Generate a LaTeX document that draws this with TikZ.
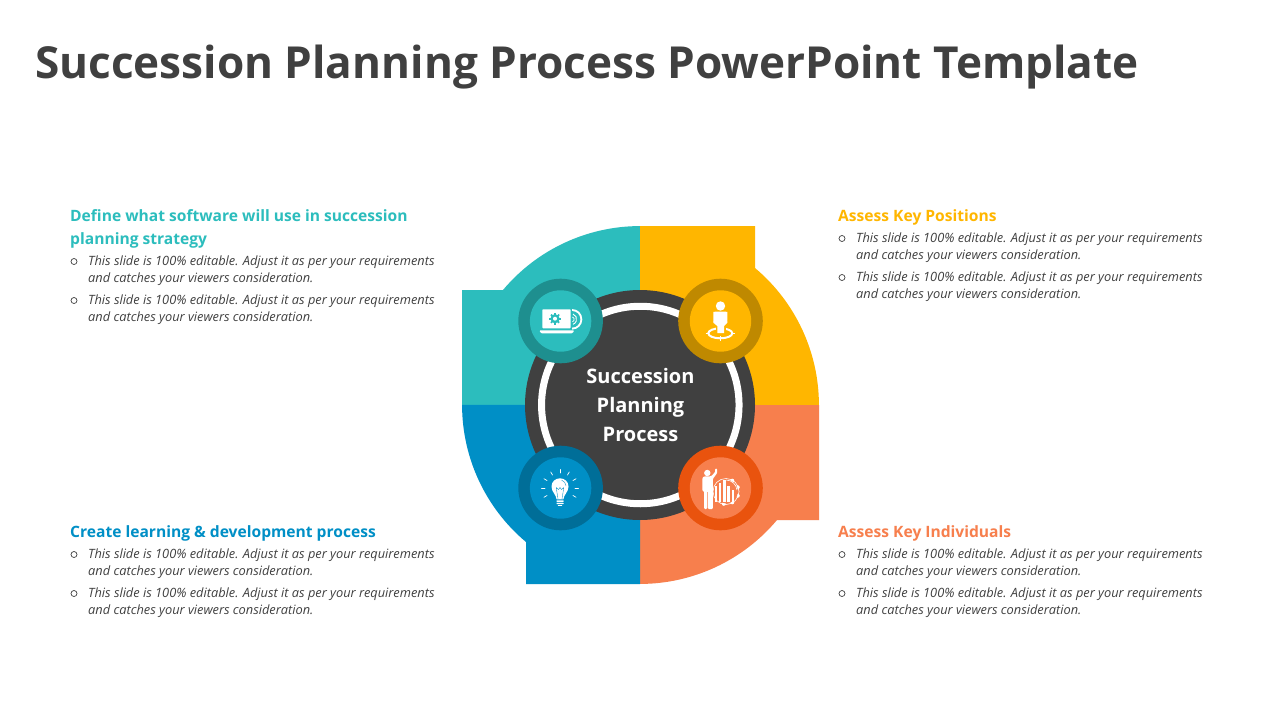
\documentclass[tikz,border=0pt]{standalone}
\usepackage{fontspec}
\setmainfont{Open Sans}
\definecolor{teal1}{HTML}{2CBDBD}\definecolor{teal2}{HTML}{1E8F8F}
\definecolor{yel1}{HTML}{FFB600}\definecolor{yel2}{HTML}{BF8900}
\definecolor{blu1}{HTML}{008FC6}\definecolor{blu2}{HTML}{006E98}
\definecolor{org1}{HTML}{F77F4D}\definecolor{org2}{HTML}{E9530E}
\definecolor{ink}{HTML}{404040}
\tikzset{
 x=1pt,y=-1pt,
 head/.style={anchor=north west,inner sep=0pt,align=left,font=\fontsize{15.6}{23}\selectfont\bfseries},
 bodytxt/.style={anchor=north west,inner sep=0pt,align=left,text=ink,font=\fontsize{12.8}{17}\selectfont\itshape},
 bull/.style={circle,draw=ink,line width=.7pt,minimum size=6pt,inner sep=0pt},
 ring/.style={circle,inner sep=0pt,minimum size=84.6pt},
 core/.style={circle,inner sep=0pt,minimum size=61.4pt},
}
\newcommand{\bodyblock}[3]{%
 \node[bull] (#3a) at (#1+4,#2+7.5) {};
 \node[bodytxt] (#3b) at (#1+18,#2+2) {This slide is 100\% editable. Adjust it as per your requirements\\and catches your viewers consideration.};
 \node[bull] (#3c) at (#1+4,#2+46.5) {};
 \node[bodytxt] (#3d) at (#1+18,#2+41) {This slide is 100\% editable. Adjust it as per your requirements\\and catches your viewers consideration.};
}
\begin{document}
\begin{tikzpicture}
\useasboundingbox (0,0) rectangle (1280,720);
\fill[white] (0,0) rectangle (1280,720);
\node[anchor=west,inner sep=0pt,text=ink,font=\fontsize{44.1}{50}\selectfont\bfseries] (title) at (35,67.5) {Succession Planning Process PowerPoint Template};
% quadrants
\fill[teal1] (640,405)--(462,405)--(462,290)--(503,290) arc[start angle=220,end angle=270,radius=179]--cycle;
\fill[yel1] (640,405)--(640,226)--(755,226)--(755,268) arc[start angle=310,end angle=360,radius=179]--cycle;
\fill[org1] (640,405)--(819,405)--(819,520)--(777,520) arc[start angle=40,end angle=90,radius=179]--cycle;
\fill[blu1] (640,405)--(640,584)--(526,584)--(526,542) arc[start angle=130,end angle=180,radius=179]--cycle;
\node[circle,fill=ink,minimum size=230pt,inner sep=0pt] (hub) at (640,405) {};
\node[circle,draw=white,line width=7pt,minimum size=197.5pt,inner sep=0pt] (hubring) at (640.3,405) {};
\node[align=center,text=white,font=\fontsize{20}{29}\selectfont\bfseries] (hubtxt) at (640.5,405) {Succession\\Planning\\Process};
\node[ring,fill=teal2] (r1) at (560.6,321) {}; \node[core,fill=teal1] (c1) at (560.6,321) {};
\node[ring,fill=yel2] (r2) at (720.5,321) {}; \node[core,fill=yel1] (c2) at (720.5,321) {};
\node[ring,fill=blu2] (r3) at (560.6,488) {}; \node[core,fill=blu1] (c3) at (560.6,488) {};
\node[ring,fill=org2] (r4) at (720.5,488) {}; \node[core,fill=org1] (c4) at (720.5,488) {};
% icon 1: laptop with gear and cup handle
\fill[white,rounded corners=.8pt] (542.3,309.3) rectangle (570.7,328.3);
\fill[white,rounded corners=1pt] (539.3,330.3)--(574.3,330.3)--(572.5,333.3)--(541,333.3)--cycle;
\fill[white] (572,309) arc[start angle=-90,end angle=90,radius=10.3]--cycle;
\fill[teal1] (572,311) arc[start angle=-90,end angle=90,radius=8.3]--cycle;
\draw[white,line width=.9pt] (573,314) arc[start angle=-70,end angle=70,radius=5.5];
\draw[white,line width=.8pt] (572.5,317) arc[start angle=-70,end angle=70,radius=2.6];
\begin{scope}[shift={(555,318.7)}]
 \fill[teal1] (0,0) circle[radius=4.6];
 \foreach \a in {0,45,...,315} \draw[teal1,line width=1.7pt] (\a:3.5)--(\a:5.8);
 \fill[white] (0,0) circle[radius=2];
\end{scope}
% icon 2: person on a target
\draw[white,line width=2pt] (720.3,333.3) ellipse[x radius=12,y radius=5];
\draw[white,line width=1.4pt] (705.5,333.3)--(709,333.3) (731.5,333.3)--(735,333.3) (720.3,336)--(720.3,340.5);
\fill[white] (720.5,306) circle[radius=4.7];
\fill[yel1] (715.5,326)--(725.5,326)--(725.5,335.5)--(715.5,335.5)--cycle;
\fill[white,rounded corners=2.5pt] (713.3,323)--(713.3,314.5)..controls (713.3,312) and (716,311.5)..(720.5,311.5)..controls (725,311.5) and (727.3,312)..(727.3,314.5)--(727.3,323)--cycle;
\fill[white] (713.3,321)--(727.3,321)--(727.3,322.7)--(724,326)--(724,333)--(717.3,333)--(717.3,326)--(713.3,322.7)--cycle;
% icon 3: light bulb
\begin{scope}[shift={(560,488)}]
 \foreach \a in {-90,-60,-120,-30,-150,0,180,30,150} \draw[white,line width=.7pt,line cap=round] (\a:15)--(\a:18.5);
 \fill[white] (-3.4,11.3)..controls (-3.8,6.5) and (-8.5,4) ..(-8.5,-1.5)..controls (-8.5,-6.5) and (-4.5,-9.7)..(0,-9.7)..controls (4.5,-9.7) and (8.5,-6.5)..(8.5,-1.5)..controls (8.5,4) and (3.8,6.5)..(3.4,11.3)--cycle;
 \draw[blu1,line width=.35pt] (-2,11)--(-3.8,-.5) (2,11)--(3.8,-.5) (-3.8,-.5)--(-1.5,1.5)--(0,-.5)--(1.5,1.5)--(3.8,-.5);
 \draw[blu1,line width=.35pt] (1.5,-8) arc[start angle=-70,end angle=-5,radius=7];
 \fill[white,rounded corners=.4pt] (-3.5,12.3) rectangle (3.5,14);
 \fill[white,rounded corners=.4pt] (-3.5,14.8) rectangle (3.5,16.2);
 \fill[white,rounded corners=.4pt] (-2.2,17) rectangle (2.2,17.9);
\end{scope}
% icon 4: presenter with gear and chart
\fill[white] (707.3,473) circle[radius=3.2];
\fill[white,rounded corners=1pt] (702.3,489.5)--(702.3,478)--(704,476.3)--(711,476.3)--(715.2,472)--(715.2,468.5)--(717.2,468.5)--(717.2,473)--(712.8,479)--(712.8,509)--(707.9,509)--(707.9,491)--(707,491)--(707,509)--(704,509)--(704,491)--(702.3,491)--cycle;
\draw[white,line width=.6pt] (726,491.5) circle[radius=13];
\foreach \a in {-60,-20,20,60,100} \fill[white] (726,491.5)++(\a:12.5) circle[radius=2];
\fill[org1] (726,491.5) circle[radius=11.9];
\foreach \bx/\by in {716/486.3,720/483,724.3/480,728.3/486,732.7/490}
  \fill[white] (\bx-1.2,\by) rectangle (\bx+1.2,502);
\draw[white,line width=.6pt] (726,480) arc[start angle=-90,end angle=-5,radius=11];
% texts
\node[head,text=teal1] (h1) at (70,209) {Define what software will use in succession\\planning strategy};
\bodyblock{70}{254}{a}
\node[head,text=yel1] (h2) at (838,209) {Assess Key Positions};
\bodyblock{838}{231}{b}
\node[head,text=blu1] (h3) at (70,525) {Create learning \& development process};
\bodyblock{70}{547}{c}
\node[head,text=org1] (h4) at (838,525) {Assess Key Individuals};
\bodyblock{838}{547}{d}
\end{tikzpicture}
\end{document}
